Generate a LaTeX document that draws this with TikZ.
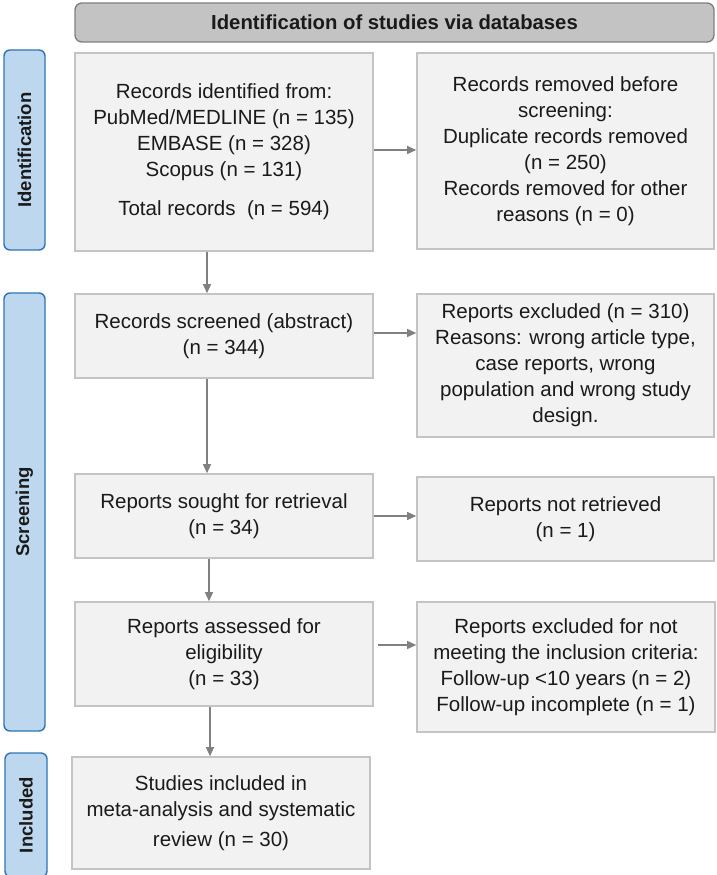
\documentclass[tikz,border=0pt]{standalone}
\usepackage{fontspec}
\setmainfont{Liberation Sans}
\usetikzlibrary{arrows.meta}
\definecolor{boxfill}{HTML}{F2F2F2}
\definecolor{boxline}{HTML}{C4C4C4}
\definecolor{headfill}{HTML}{C3C3C3}
\definecolor{headline}{HTML}{808080}
\definecolor{barfill}{HTML}{BDD7EE}
\definecolor{barline}{HTML}{2E75B6}
\definecolor{arrcol}{HTML}{808080}
\definecolor{txt}{HTML}{1A1A1A}
\begin{document}
\begin{tikzpicture}[x=1pt,y=-1pt,
 box/.style={draw=boxline, line width=1.6pt, fill=boxfill, align=center, inner sep=0pt, font=\fontsize{20.5}{26}\selectfont, text=txt, execute at begin node={\rule{0pt}{22pt}}},
 head/.style={draw=headline, line width=1.4pt, fill=headfill, rounded corners=7pt, font=\bfseries\fontsize{20.3}{24}\selectfont, inner sep=0pt, text=txt},
 bar/.style={draw=barline, line width=1.4pt, fill=barfill, rounded corners=6pt, inner sep=0pt, rotate=90, font=\bfseries\fontsize{18.5}{22}\selectfont, text=txt},
 arr/.style={draw=arrcol, line width=1.1pt, -{Triangle[length=9pt,width=8pt]}}
]
\useasboundingbox (0,0) rectangle (717,875);

\node[head, minimum width=639pt, minimum height=39pt] (hd) at (394.5,22.5) {Identification of studies via databases};

\node[bar, minimum width=200pt, minimum height=41pt] (idbar) at (24.5,150) {Identification};
\node[bar, minimum width=438pt, minimum height=41pt] (scbar) at (24.5,512) {Screening};
\node[bar, minimum width=124pt, minimum height=42pt] (inbar) at (26,815) {Included};

\node[box, minimum width=298pt, minimum height=198pt] (b1) at (224,152)
 {Records identified from:\\ PubMed/MEDLINE (n = 135)\\ EMBASE (n = 328)\\ Scopus (n = 131)\\[13pt] Total records\ \ (n = 594)};
\node[box, minimum width=297pt, minimum height=196pt] (b2) at (565.5,151)
 {Records removed before\\ screening:\\ Duplicate records removed\\ (n = 250)\\ Records removed for other\\ reasons (n = 0)};

\node[box, minimum width=298pt, minimum height=84pt] (scr) at (224,336)
 {Records screened (abstract)\\ (n = 344)};
\node[box, minimum width=297pt, minimum height=143pt] (ex1) at (565.5,365.5)
 {Reports excluded (n = 310)\\ Reasons: wrong article type,\\ case reports, wrong\\ population and wrong study\\ design.};

\node[box, minimum width=298pt, minimum height=84pt] (sgt) at (224,516)
 {Reports sought for retrieval\\ (n = 34)};
\node[box, minimum width=297pt, minimum height=84pt] (nr) at (565.5,519)
 {Reports not retrieved\\ (n = 1)};

\node[box, minimum width=298pt, minimum height=104pt] (ass) at (224,654)
 {Reports assessed for\\ eligibility\\ (n = 33)};
\node[box, minimum width=298pt, minimum height=130pt] (ex2) at (566,667)
 {Reports excluded for not\\ meeting the inclusion criteria:\\ Follow-up {<}10 years (n = 2)\\ Follow-up incomplete (n = 1)};

\node[box, minimum width=298pt, minimum height=112pt] (inc) at (221,813)
 {Studies included in\\ meta-analysis and systematic\\[4pt] review (n = 30)};

\draw[arr] ([yshift=2pt]b1.east) -- ([yshift=2pt]b1.east -| b2.west);
\draw[arr] ([xshift=-17pt]b1.south) -- ([xshift=-17pt]b1.south |- scr.north);
\draw[arr] ([yshift=3pt]scr.east) -- ([yshift=3pt]scr.east -| ex1.west);
\draw[arr] ([xshift=-17pt]scr.south) -- ([xshift=-17pt]scr.south |- sgt.north);
\draw[arr] (sgt.east) -- (sgt.east -| nr.west);
\draw[arr] ([xshift=-15pt]sgt.south) -- ([xshift=-15pt]sgt.south |- ass.north);
\draw[arr] ([xshift=4pt,yshift=9pt]ass.east) -- ([yshift=9pt]ass.east -| ex2.west);
\draw[arr] ([xshift=-14pt]ass.south) -- ([xshift=-14pt]ass.south |- inc.north);
\end{tikzpicture}
\end{document}
